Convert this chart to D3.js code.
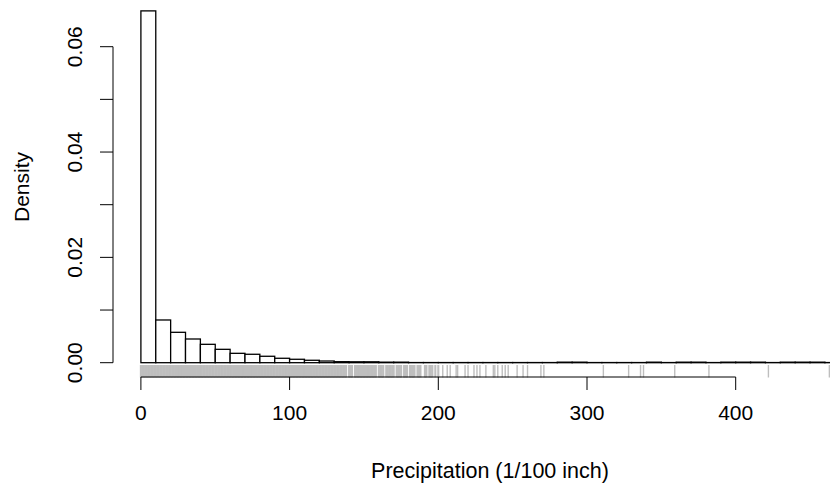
<!DOCTYPE html>
<html>
<head>
<meta charset="utf-8">
<script src="https://cdn.jsdelivr.net/npm/d3@7"></script>
<style>
  body { margin: 0; background: #fff; }
  text { font-family: "Liberation Sans", Arial, sans-serif; }
</style>
</head>
<body>
<svg id="hist"></svg>
<script>
/**data */
const binStarts = [0, 10, 20, 30, 40, 50, 60, 70, 80, 90,
                   100, 110, 120, 130, 140, 150, 160, 170, 180, 190,
                   200, 210, 220, 230, 240, 250, 260, 270, 280, 290,
                   300, 310, 320, 330, 340, 350, 360, 370, 380, 390,
                   400, 410, 420, 430, 440, 450, 460];
const densities = [0.0668, 0.00811, 0.00577, 0.0045, 0.00349, 0.00254, 0.00178, 0.0016, 0.00122, 0.00084,
                   0.00065, 0.00046, 0.00032, 0.00019, 0.00017, 0.00017, 0.0001, 0.0001, 0.00003, 0.00003,
                   0.00003, 0.00003, 0.00003, 0.00003, 0.00003, 0.00003, 0.00003, 0.00003, 0.0001, 0.0001,
                   0.00003, 0.00003, 0.00003, 0.00003, 0.0001, 0.00003, 0.0001, 0.0001, 0.00003, 0.0001,
                   0.0001, 0.0001, 0.00003, 0.0001, 0.0001, 0.0001, 0.00003];
const binWidth = 10;
/*rug: observed precipitation values (dense part, then sparse tail) */
const rugDense = [0, 1, 2, 3, 4, 5, 6, 7, 8, 9, 10, 11, 12, 13, 14, 15, 16, 17, 18, 19,
                  20, 21, 22, 23, 24, 25, 26, 27, 28, 29, 30, 31, 32, 33, 34, 35, 36, 37, 38, 39,
                  40, 41, 42, 43, 44, 45, 46, 47, 48, 49, 50, 51, 52, 53, 54, 55, 56, 57, 58, 59,
                  60, 61, 62, 63, 64, 65, 66, 67, 68, 69, 70, 71, 72, 73, 74, 75, 76, 77, 78, 79,
                  80, 81, 82, 83, 84, 85, 86, 87, 88, 89, 90, 91, 92, 93, 94, 95, 96, 97, 98, 99,
                  100, 101, 102, 103, 104, 105, 106, 107, 108, 109, 110, 111, 112, 113, 114, 115, 116, 117, 118, 119,
                  120, 121, 122, 123, 124, 125, 126, 127, 128, 129, 130, 131, 132, 133, 134, 135, 136, 137, 138,
                  140, 141, 142, 144, 145, 146, 147, 148, 149, 150, 151, 152, 153, 154, 155, 156, 157, 158,
                  160, 161, 162, 163, 165, 166, 167, 168, 169, 170, 172, 173, 174, 175, 177, 178, 179,
                  181, 182, 183, 184, 186, 187, 188, 191, 192, 194, 195, 196, 198, 200];
const rugSparse = [203, 206, 208, 212, 213, 218, 220, 224, 226, 228, 232, 237, 238, 240, 243, 245, 247,
                   253, 257, 260, 269, 271, 311, 328, 336, 338, 359, 382, 422, 463];
const xTicks = [0, 100, 200, 300, 400];
const yTicks = [0, 0.01, 0.02, 0.03, 0.04, 0.05, 0.06];
const yLabels = [0, 0.02, 0.04, 0.06];

/**set constant */
const width = 830, height = 487;
const svg = d3.select('#hist').attr('width', width).attr('height', height);

/*scales, fitted to the reference pixels */
const xScale = d3.scaleLinear().domain([0, 400]).range([140.9, 735.7]);
const yScale = d3.scaleLinear().domain([0, 0.06]).range([362.7, 46.7]);
const axisY = 377, axisX = 113;

/*histogram bars */
svg.append('g').selectAll('rect').data(binStarts).enter().append('rect')
    .attr('x', d => xScale(d))
    .attr('width', d => xScale(d + binWidth) - xScale(d))
    .attr('y', (d, i) => yScale(densities[i]))
    .attr('height', (d, i) => yScale(0) - yScale(densities[i]))
    .attr('fill', 'white').attr('stroke', 'black').attr('stroke-width', 1.3);

/*rug: dense part drawn a bit wider so it merges into a band like in R */
const rug = svg.append('g');
rug.selectAll('line.dense').data(rugDense).enter().append('line').attr('class', 'dense')
    .attr('x1', d => xScale(d)).attr('x2', d => xScale(d))
    .attr('y1', 365).attr('y2', 377.5)
    .attr('stroke', '#bebebe').attr('stroke-width', 2.1);
rug.selectAll('line.sparse').data(rugSparse).enter().append('line').attr('class', 'sparse')
    .attr('x1', d => xScale(d)).attr('x2', d => xScale(d))
    .attr('y1', 365).attr('y2', 377.5)
    .attr('stroke', '#bebebe').attr('stroke-width', 1.4);

/*x axis, R style */
const xg = svg.append('g').attr('transform', `translate(0, ${axisY})`);
xg.append('line').attr('x1', xScale(0)).attr('x2', xScale(400)).attr('stroke', 'black');
xg.selectAll('line.tick').data(xTicks).enter().append('line').attr('class', 'tick')
    .attr('x1', d => xScale(d)).attr('x2', d => xScale(d)).attr('y1', 0).attr('y2', 13)
    .attr('stroke', 'black');
xg.selectAll('text').data(xTicks).enter().append('text')
    .attr('x', d => xScale(d)).attr('y', 43)
    .attr('text-anchor', 'middle').attr('font-size', 21).text(d => d);

/*y axis */
const yg = svg.append('g').attr('transform', `translate(${axisX}, 0)`);
yg.append('line').attr('y1', yScale(0)).attr('y2', yScale(0.06)).attr('stroke', 'black');
yg.selectAll('line.tick').data(yTicks).enter().append('line').attr('class', 'tick')
    .attr('y1', d => yScale(d)).attr('y2', d => yScale(d)).attr('x1', 0).attr('x2', -13)
    .attr('stroke', 'black');
yg.selectAll('text').data(yLabels).enter().append('text')
    .attr('transform', d => `translate(-31, ${yScale(d)}) rotate(-90)`)
    .attr('text-anchor', 'middle').attr('font-size', 21).text(d => d.toFixed(2));

/*titles, centred on the full plot region as R does */
svg.append('text').attr('x', 490).attr('y', 478)
    .attr('text-anchor', 'middle').attr('font-size', 21.5).text('Precipitation (1/100 inch)');
svg.append('text').attr('transform', 'translate(29, 187) rotate(-90)')
    .attr('text-anchor', 'middle').attr('font-size', 21).text('Density');
</script>
</body>
</html>
